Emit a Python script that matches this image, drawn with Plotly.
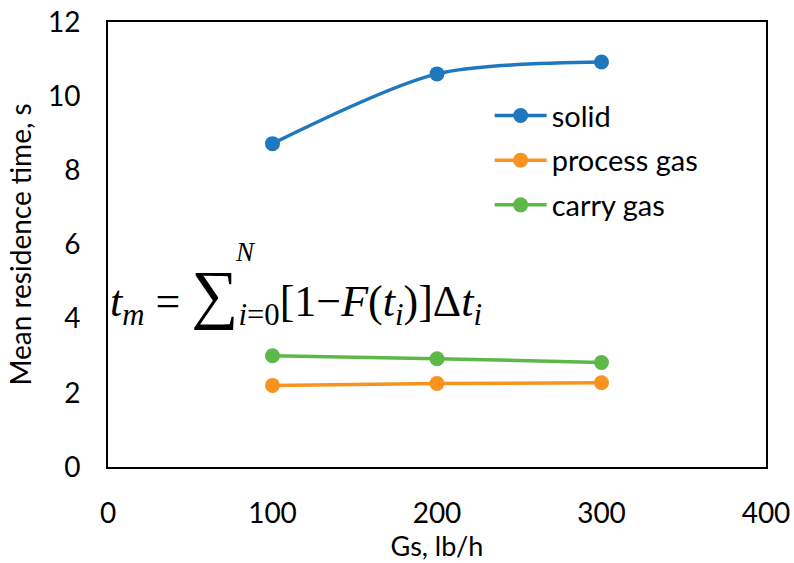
import plotly.graph_objects as go

gs = [100, 200, 300]
solid = [8.72, 10.6, 10.92]
process_gas = [2.2, 2.25, 2.27]
carry_gas = [3.0, 2.92, 2.82]

series = [
    ("solid", solid, "#1F77BE"),
    ("process gas", process_gas, "#F7931E"),
    ("carry gas", carry_gas, "#5DB848"),
]

fig = go.Figure()
for i, (name, vals, color) in enumerate(series):
    fig.add_trace(go.Scatter(
        x=gs, y=vals, name=name, mode="lines+markers",
        line=dict(color=color, width=3.5, shape="spline", smoothing=0.8),
        marker=dict(color=color, size=15),
        legendgroup=str(i),
    ))

base_font = "Lato"
axis_common = dict(
    showgrid=False, zeroline=False, showline=True, linecolor="black",
    linewidth=2, mirror=True, ticks="", ticklabelstandoff=20, automargin=False,
    tickfont=dict(size=28, color="black", family=base_font),
)

fig.update_layout(
    width=794, height=563,
    margin=dict(l=108, r=28, t=22, b=96),
    paper_bgcolor="white", plot_bgcolor="white",
    font=dict(family=base_font, color="black", size=28),
    xaxis=dict(range=[0, 400], dtick=100,
               title=dict(text="Gs, lb/h", font=dict(size=27, family=base_font), standoff=6),
               **axis_common),
    yaxis=dict(range=[0, 12], dtick=2,
               title=dict(text="Mean residence time, s", font=dict(size=28, family=base_font), standoff=8),
               **axis_common),
    legend=dict(x=0.58, y=0.847, xanchor="left", yanchor="top",
                font=dict(size=29, family=base_font),
                bgcolor="rgba(0,0,0,0)", tracegroupgap=4, itemwidth=52),
    showlegend=True,
)

serif = "Liberation Serif"
fig.add_annotation(
    xref="x", yref="y", x=0, y=4.65, xanchor="left", yanchor="middle",
    text="<i>t</i><sub><i>m</i></sub> = <span style='font-size:66px'>∑</span><sub><i>i</i>=0</sub>[1−<i>F</i>(<i>t</i><sub><i>i</i></sub>)]Δ<i>t</i><sub><i>i</i></sub>",
    showarrow=False, font=dict(family=serif, size=44, color="black"),
)
fig.add_annotation(
    xref="x", yref="y", x=76, y=5.8, xanchor="left", yanchor="middle",
    text="<i>N</i>", showarrow=False, font=dict(family=serif, size=27, color="black"),
)

fig.write_html("out.html")
